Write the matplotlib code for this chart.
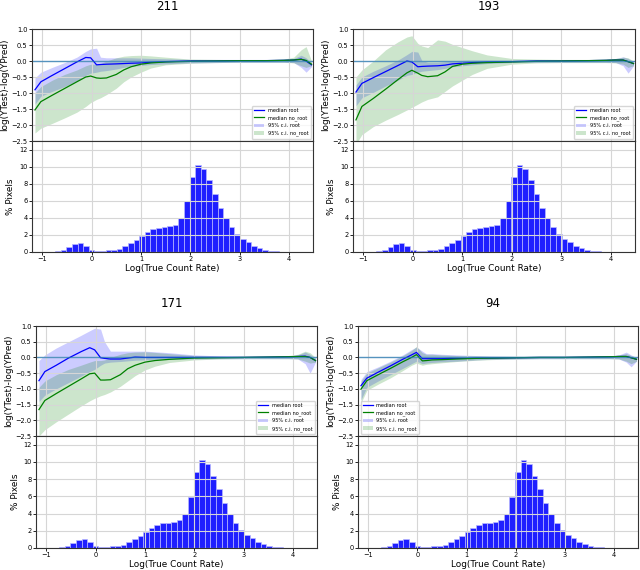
import numpy as np
import matplotlib
matplotlib.use("Agg")
import matplotlib.pyplot as plt

# x positions of the median / confidence curves (log true count rate)
x_pts = [-1.15, -1.03, -0.8, -0.55, -0.3, -0.12, -0.02, 0.1, 0.18, 0.3, 0.5, 0.65, 0.8,
         1.0, 1.2, 1.5, 2.0, 2.5, 3.0, 3.5, 3.9, 4.1, 4.25, 4.35, 4.46]

# 211
med_root_211 = [-0.9, -0.65, -0.45, -0.24, -0.03, 0.11, 0.1, -0.12, -0.11, -0.1, -0.09, -0.08, -0.07,
                -0.06, -0.04, -0.02, 0.0, 0.0, 0.01, 0.01, 0.02, 0.03, 0.06, 0.0, -0.12]
med_noroot_211 = [-1.53, -1.27, -1.07, -0.86, -0.65, -0.5, -0.47, -0.53, -0.54, -0.53, -0.42, -0.28, -0.18,
                  -0.1, -0.06, -0.03, -0.01, 0.0, 0.01, 0.01, 0.02, 0.03, 0.05, 0.02, -0.1]
root_lo_211 = [-1.35, -1.1, -0.95, -0.8, -0.62, -0.45, -0.38, -0.35, -0.32, -0.3, -0.25, -0.2, -0.17,
               -0.14, -0.11, -0.09, -0.06, -0.05, -0.04, -0.04, -0.04, -0.05, -0.2, -0.35, -0.18]
root_hi_211 = [-0.53, -0.35, -0.2, -0.05, 0.12, 0.3, 0.38, 0.4, 0.12, 0.1, 0.1, 0.1, 0.1,
               0.09, 0.08, 0.07, 0.05, 0.05, 0.05, 0.05, 0.06, 0.08, 0.18, 0.1, -0.05]
noroot_lo_211 = [-2.25, -2.1, -1.95, -1.78, -1.6, -1.42, -1.3, -1.2, -1.15, -1.05, -0.85, -0.65, -0.5,
                 -0.35, -0.22, -0.12, -0.07, -0.05, -0.04, -0.04, -0.04, -0.06, -0.15, -0.2, -0.15]
noroot_hi_211 = [-1.0, -0.8, -0.6, -0.42, -0.28, -0.15, -0.1, -0.1, -0.08, 0.0, 0.1, 0.15, 0.17,
                 0.18, 0.16, 0.12, 0.06, 0.05, 0.04, 0.04, 0.06, 0.12, 0.35, 0.45, 0.0]

# 193
med_root_193 = [-0.97, -0.7, -0.52, -0.33, -0.14, 0.0, -0.03, -0.18, -0.17, -0.16, -0.15, -0.13, -0.09,
                -0.07, -0.05, -0.03, -0.02, 0.0, 0.0, 0.01, 0.02, 0.03, 0.03, -0.02, -0.08]
med_noroot_193 = [-1.84, -1.42, -1.17, -0.88, -0.58, -0.37, -0.29, -0.38, -0.45, -0.49, -0.46, -0.34, -0.17,
                  -0.1, -0.07, -0.05, -0.03, -0.01, 0.0, 0.01, 0.02, 0.03, 0.03, -0.02, -0.08]
root_lo_193 = [-1.4, -1.15, -0.98, -0.78, -0.6, -0.45, -0.42, -0.35, -0.32, -0.3, -0.27, -0.23, -0.18,
               -0.15, -0.12, -0.08, -0.05, -0.04, -0.04, -0.04, -0.04, -0.05, -0.15, -0.38, -0.15]
root_hi_193 = [-0.75, -0.5, -0.32, -0.15, 0.03, 0.2, 0.3, 0.28, 0.02, -0.04, -0.04, -0.02, 0.0,
               0.02, 0.03, 0.03, 0.03, 0.04, 0.04, 0.04, 0.05, 0.08, 0.13, 0.08, -0.02]
noroot_lo_193 = [-2.6, -2.3, -2.05, -1.85, -1.67, -1.53, -1.45, -1.35, -1.28, -1.2, -1.12, -0.95, -0.78,
                 -0.6, -0.42, -0.23, -0.1, -0.06, -0.05, -0.05, -0.05, -0.06, -0.1, -0.2, -0.15]
noroot_hi_193 = [-0.5, -0.28, 0.0, 0.35, 0.6, 0.75, 0.79, 0.55, 0.47, 0.42, 0.66, 0.62, 0.52,
                 0.42, 0.32, 0.19, 0.08, 0.06, 0.05, 0.05, 0.06, 0.08, 0.12, 0.1, 0.0]

# 171
med_root_171 = [-0.74, -0.45, -0.25, -0.02, 0.18, 0.31, 0.24, -0.01, -0.03, -0.05, -0.05, -0.02, 0.01,
                0.0, 0.0, 0.0, 0.0, 0.0, 0.0, 0.01, 0.02, 0.03, 0.04, 0.0, -0.1]
med_noroot_171 = [-1.66, -1.37, -1.15, -0.92, -0.69, -0.52, -0.5, -0.72, -0.72, -0.71, -0.55, -0.36, -0.25,
                  -0.15, -0.1, -0.06, -0.02, -0.01, 0.0, 0.01, 0.02, 0.03, 0.03, 0.0, -0.1]
root_lo_171 = [-1.4, -1.2, -1.0, -0.8, -0.6, -0.45, -0.38, -0.25, -0.18, -0.15, -0.13, -0.11, -0.09,
               -0.08, -0.07, -0.06, -0.05, -0.04, -0.04, -0.04, -0.04, -0.05, -0.2, -0.5, -0.15]
root_hi_171 = [-0.1, 0.08, 0.3, 0.5, 0.7, 0.85, 0.93, 0.9, 0.5, 0.2, 0.2, 0.2, 0.2,
               0.2, 0.18, 0.15, 0.08, 0.05, 0.04, 0.04, 0.05, 0.08, 0.17, 0.1, -0.03]
noroot_lo_171 = [-2.5, -2.3, -2.05, -1.8, -1.55, -1.38, -1.3, -1.22, -1.18, -1.1, -0.92, -0.75, -0.58,
                 -0.4, -0.28, -0.16, -0.08, -0.05, -0.04, -0.04, -0.04, -0.05, -0.12, -0.18, -0.15]
noroot_hi_171 = [-0.95, -0.75, -0.55, -0.38, -0.25, -0.15, -0.1, -0.1, -0.08, 0.0, 0.1, 0.15, 0.17,
                 0.18, 0.16, 0.12, 0.06, 0.05, 0.04, 0.04, 0.06, 0.1, 0.2, 0.15, 0.0]

# 94
med_root_94 = [-0.9, -0.66, -0.47, -0.27, -0.06, 0.08, 0.16, -0.04, -0.04, -0.04, -0.04, -0.03, -0.03,
               -0.03, -0.02, -0.02, -0.01, 0.0, 0.0, 0.01, 0.02, 0.03, 0.03, -0.01, -0.06]
med_noroot_94 = [-1.01, -0.74, -0.55, -0.35, -0.14, 0.0, 0.09, -0.11, -0.1, -0.08, -0.07, -0.06, -0.05,
                 -0.04, -0.03, -0.02, -0.01, 0.0, 0.0, 0.01, 0.02, 0.03, 0.03, -0.01, -0.06]
root_lo_94 = [-1.35, -0.95, -0.75, -0.55, -0.35, -0.2, -0.12, -0.2, -0.18, -0.16, -0.14, -0.13, -0.12,
              -0.1, -0.08, -0.06, -0.05, -0.04, -0.04, -0.04, -0.04, -0.05, -0.15, -0.3, -0.12]
root_hi_94 = [-0.7, -0.45, -0.3, -0.12, 0.08, 0.25, 0.33, 0.2, 0.12, 0.12, 0.1, 0.09, 0.08,
              0.07, 0.06, 0.05, 0.04, 0.04, 0.04, 0.04, 0.05, 0.08, 0.17, 0.08, 0.0]
noroot_lo_94 = [-1.45, -1.05, -0.85, -0.65, -0.42, -0.25, -0.18, -0.25, -0.22, -0.2, -0.17, -0.15, -0.13,
                -0.11, -0.09, -0.07, -0.05, -0.04, -0.04, -0.04, -0.04, -0.05, -0.12, -0.2, -0.12]
noroot_hi_94 = [-0.75, -0.5, -0.33, -0.15, 0.05, 0.22, 0.35, 0.15, 0.1, 0.1, 0.08, 0.07, 0.06,
                0.05, 0.05, 0.04, 0.04, 0.04, 0.04, 0.04, 0.05, 0.07, 0.12, 0.06, 0.0]

# pixel histogram (same in all four panels)
bin_edges = [-1.078, -0.965, -0.852, -0.738, -0.625, -0.511, -0.398, -0.284, -0.171, -0.057,
             0.057, 0.170, 0.284, 0.397, 0.511, 0.624, 0.738, 0.851, 0.965, 1.078,
             1.192, 1.305, 1.419, 1.532, 1.646, 1.759, 1.873, 1.986, 2.100, 2.213,
             2.327, 2.440, 2.554, 2.667, 2.781, 2.894, 3.008, 3.121, 3.235, 3.348,
             3.462, 3.575, 3.689, 3.802, 3.916, 4.029, 4.143, 4.256]
pct_pixels = [0.02, 0.03, 0.05, 0.12, 0.27, 0.55, 0.9, 1.02, 0.65, 0.23,
              0.12, 0.12, 0.2, 0.28, 0.4, 0.65, 1.0, 1.45, 1.9, 2.3,
              2.65, 2.85, 2.95, 3.0, 3.2, 4.0, 5.95, 8.8, 10.2, 9.75,
              8.4, 6.8, 5.2, 3.95, 2.9, 2.05, 1.55, 1.15, 0.7, 0.45,
              0.23, 0.12, 0.06, 0.03, 0.02, 0.01, 0.01]

W, H = 640, 570


def px_rect(left, right, top, bottom):
    return [left / W, 1 - bottom / H, (right - left) / W, (bottom - top) / H]


def style_axis(ax):
    ax.grid(True, color="#d6d6d6", lw=0.8)
    ax.tick_params(labelsize=4.8, length=2, width=0.6, pad=1.2)
    for s in ax.spines.values():
        s.set_linewidth(0.8)
        s.set_color("#333333")


def draw_panel(fig, name, data, box, legend_loc):
    left, right, top, mid, bottom = box
    width = right - left
    ax = fig.add_axes(px_rect(left, right, top, mid))
    axh = fig.add_axes(px_rect(left, right, mid, bottom), sharex=ax)

    med_root, med_noroot, r_lo, r_hi, n_lo, n_hi = data
    ax.plot(x_pts, med_root, color="blue", lw=0.9, label="median root")
    ax.plot(x_pts, med_noroot, color="green", lw=0.9, label="median no_root")
    ax.fill_between(x_pts, r_lo, r_hi, color="blue", alpha=0.2, lw=0, label="95% c.i. root")
    ax.fill_between(x_pts, n_lo, n_hi, color="green", alpha=0.2, lw=0, label="95% c.i. no_root")
    ax.axhline(0, color="#1f77b4", alpha=0.7, lw=1)
    ax.set_ylim(-2.5, 1.0)
    ax.set_yticks(np.arange(-2.5, 1.01, 0.5))
    ax.set_xlim(-1.21, 4.49)
    ax.tick_params(labelbottom=False)
    ax.set_ylabel("log(YTest)-log(YPred)", fontsize=6.4)
    ax.yaxis.set_label_coords(-22.5 / width, 0.5)
    ax.set_title(name, fontsize=8.5, pad=13.5, x=0.482)
    ax.legend(loc=legend_loc, fontsize=3.6)
    style_axis(ax)

    axh.bar(bin_edges[:-1], pct_pixels, width=np.diff(bin_edges), align="edge",
            color="#1f1fff", edgecolor="#b8b8ff", lw=0.5)
    axh.set_ylim(0, 13)
    axh.set_yticks(range(0, 13, 2))
    axh.set_xticks(range(-1, 5))
    axh.set_ylabel("% Pixels", fontsize=6.4)
    axh.yaxis.set_label_coords(-16.5 / width, 0.5)
    axh.set_xlabel("Log(True Count Rate)", fontsize=6.4, labelpad=1)
    style_axis(axh)


fig = plt.figure(figsize=(6.4, 5.7), dpi=100)

draw_panel(fig, "211", [med_root_211, med_noroot_211, root_lo_211, root_hi_211, noroot_lo_211, noroot_hi_211],
           (32, 313, 29, 141, 252), "lower right")
draw_panel(fig, "193", [med_root_193, med_noroot_193, root_lo_193, root_hi_193, noroot_lo_193, noroot_hi_193],
           (353, 635, 29, 141, 252), "lower right")
draw_panel(fig, "171", [med_root_171, med_noroot_171, root_lo_171, root_hi_171, noroot_lo_171, noroot_hi_171],
           (36, 317, 326, 436, 548), "lower right")
draw_panel(fig, "94", [med_root_94, med_noroot_94, root_lo_94, root_hi_94, noroot_lo_94, noroot_hi_94],
           (358, 638, 326, 436, 548), "lower left")

fig.savefig("out.png", dpi=100)
